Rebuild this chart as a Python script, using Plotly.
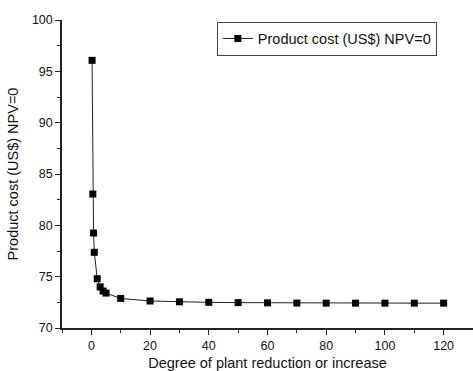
import plotly.graph_objects as go

degree = [0.25, 0.5, 0.75, 1, 2, 3, 4, 5, 10, 20, 30, 40, 50, 60, 70, 80, 90, 100, 110, 120]
cost = [96.07, 83.05, 79.25, 77.37, 74.8, 74.0, 73.6, 73.4, 72.88, 72.63, 72.55, 72.5, 72.47, 72.45, 72.43, 72.42, 72.42, 72.42, 72.42, 72.42]

series_name = "Product cost (US$) NPV=0"
x_title = "Degree of plant reduction or increase"
y_title = "Product cost (US$) NPV=0"

fig = go.Figure()
fig.add_trace(go.Scatter(
    x=degree, y=cost, mode="lines+markers", name=series_name,
    line=dict(color="#222222", width=1),
    marker=dict(symbol="square", size=7, color="black"),
))

font_family = "Arial, Liberation Sans, sans-serif"
fig.update_layout(
    width=473, height=371,
    margin=dict(l=62, r=0, t=20, b=43),
    plot_bgcolor="white", paper_bgcolor="white",
    font=dict(family=font_family, size=12, color="#111111"),
    showlegend=True,
    legend=dict(x=0.912, y=0.995, xanchor="right", yanchor="top",
                bordercolor="#444444", borderwidth=1, bgcolor="white",
                font=dict(size=14.5, family=font_family),
                itemwidth=30, tracegroupgap=0),
    xaxis=dict(range=[-10, 130], tickvals=[0, 20, 40, 60, 80, 100, 120],
               showgrid=False, zeroline=False, showline=True, linecolor="#222222", linewidth=1.5,
               ticks="outside", ticklen=5, tickcolor="#222222",
               minor=dict(dtick=10, tick0=0, ticks="outside", ticklen=3, tickcolor="#222222"),
               title=dict(text=x_title, font=dict(size=14.5), standoff=8),
               tickfont=dict(size=12.5)),
    yaxis=dict(range=[70, 100], tickvals=[70, 75, 80, 85, 90, 95, 100],
               showgrid=False, zeroline=False, showline=True, linecolor="#222222", linewidth=1.5,
               ticks="outside", ticklen=5, tickcolor="#222222",
               minor=dict(dtick=2.5, tick0=70, ticks="outside", ticklen=3, tickcolor="#222222"),
               title=dict(text=y_title, font=dict(size=14.5), standoff=10),
               tickfont=dict(size=12.5)),
)

fig.write_html("out.html")
